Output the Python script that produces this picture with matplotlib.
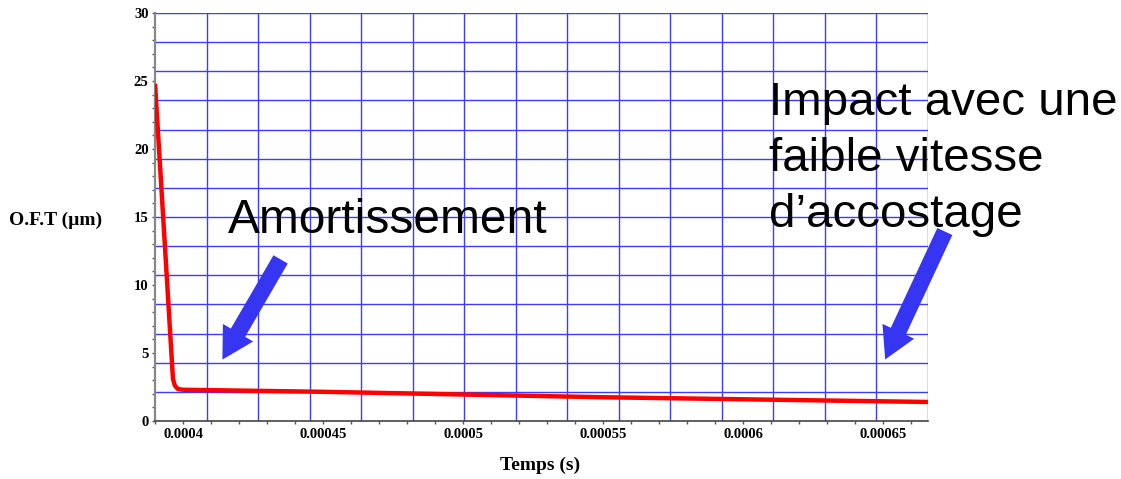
import numpy as np
import matplotlib.pyplot as plt
from matplotlib.patches import FancyArrowPatch
from matplotlib.ticker import MultipleLocator

plt.rcParams["font.family"] = ["Liberation Serif", "DejaVu Serif"]

# time (s) and O.F.T (um)
temps = [0.000390, 0.0003929, 0.0003964, 0.0003971, 0.0003982,
         0.000400, 0.000450, 0.000500, 0.000550, 0.000600, 0.000650, 0.000666]
oft = [24.8, 15.0, 3.1, 2.6, 2.35,
       2.3, 2.15, 1.95, 1.75, 1.6, 1.45, 1.4]

xticks = [0.0004, 0.00045, 0.0005, 0.00055, 0.0006, 0.00065]
xtick_labels = ["0.0004", "0.00045", "0.0005", "0.00055", "0.0006", "0.00065"]
yticks = [0, 5, 10, 15, 20, 25, 30]

xmin, xmax = 0.00039, 0.000666
ymin, ymax = 0, 30

fig = plt.figure(figsize=(11.21, 4.79), dpi=100)
ax = fig.add_axes([0.1383, 0.121, 0.6895, 0.8518])

grid_col = "#3c3cff"
for gx in np.linspace(xmin, xmax, 16)[1:]:
    ax.axvline(gx, color=grid_col, lw=1.0, zorder=1)
for gy in np.linspace(ymin, ymax, 15)[1:]:
    ax.axhline(gy, color=grid_col, lw=1.0, zorder=1)

ax.plot(temps, oft, color="#ff0000", lw=3.2, zorder=3, solid_capstyle="butt")

ax.set_xlim(xmin, xmax)
ax.set_ylim(ymin, ymax)
ax.set_xticks(xticks)
ax.set_xticklabels(xtick_labels)
ax.set_yticks(yticks)
ax.xaxis.set_minor_locator(MultipleLocator(0.00001))
ax.yaxis.set_minor_locator(MultipleLocator(1))
ax.tick_params(which="both", direction="out", labelsize=10.5, color="#555555")
ax.tick_params(which="major", length=2.5, width=1, pad=2.2)
ax.tick_params(which="minor", length=2.2, width=1)
for lab in ax.get_xticklabels() + ax.get_yticklabels():
    lab.set_fontweight("bold")

for s in ["top", "right"]:
    ax.spines[s].set_visible(False)
ax.spines["left"].set_color("#888888")
ax.spines["left"].set_linewidth(1.6)
ax.spines["bottom"].set_color("#444444")
ax.spines["bottom"].set_linewidth(1.2)

fig.text(0.050, 0.541, "O.F.T (µm)", ha="center", va="center",
         fontsize=14, fontweight="bold")
fig.text(0.482, 0.029, "Temps (s)", ha="center", va="center",
         fontsize=14, fontweight="bold")

sans = ["Liberation Sans", "DejaVu Sans"]
fig.text(0.203, 0.54, "Amortissement", ha="left", va="center",
         fontsize=34.5, family=sans)
fig.text(0.686, 0.668, "Impact avec une\nfaible vitesse\nd’accostage",
         ha="left", va="center", fontsize=34.2, family=sans, linespacing=1.34)

arrow_col = "#3636f2"
arrow = dict(arrowstyle="simple,head_width=1.8,head_length=1.6,tail_width=0.85",
             color=arrow_col, lw=0)
fig.add_artist(FancyArrowPatch(
    (282 / 1121, 1 - 257 / 479), (221 / 1121, 1 - 362 / 479),
    transform=fig.transFigure, mutation_scale=14, **arrow))
fig.add_artist(FancyArrowPatch(
    (946 / 1121, 1 - 229 / 479), (884 / 1121, 1 - 362 / 479),
    transform=fig.transFigure, mutation_scale=14, **arrow))

fig.savefig("out.png", dpi=100)
